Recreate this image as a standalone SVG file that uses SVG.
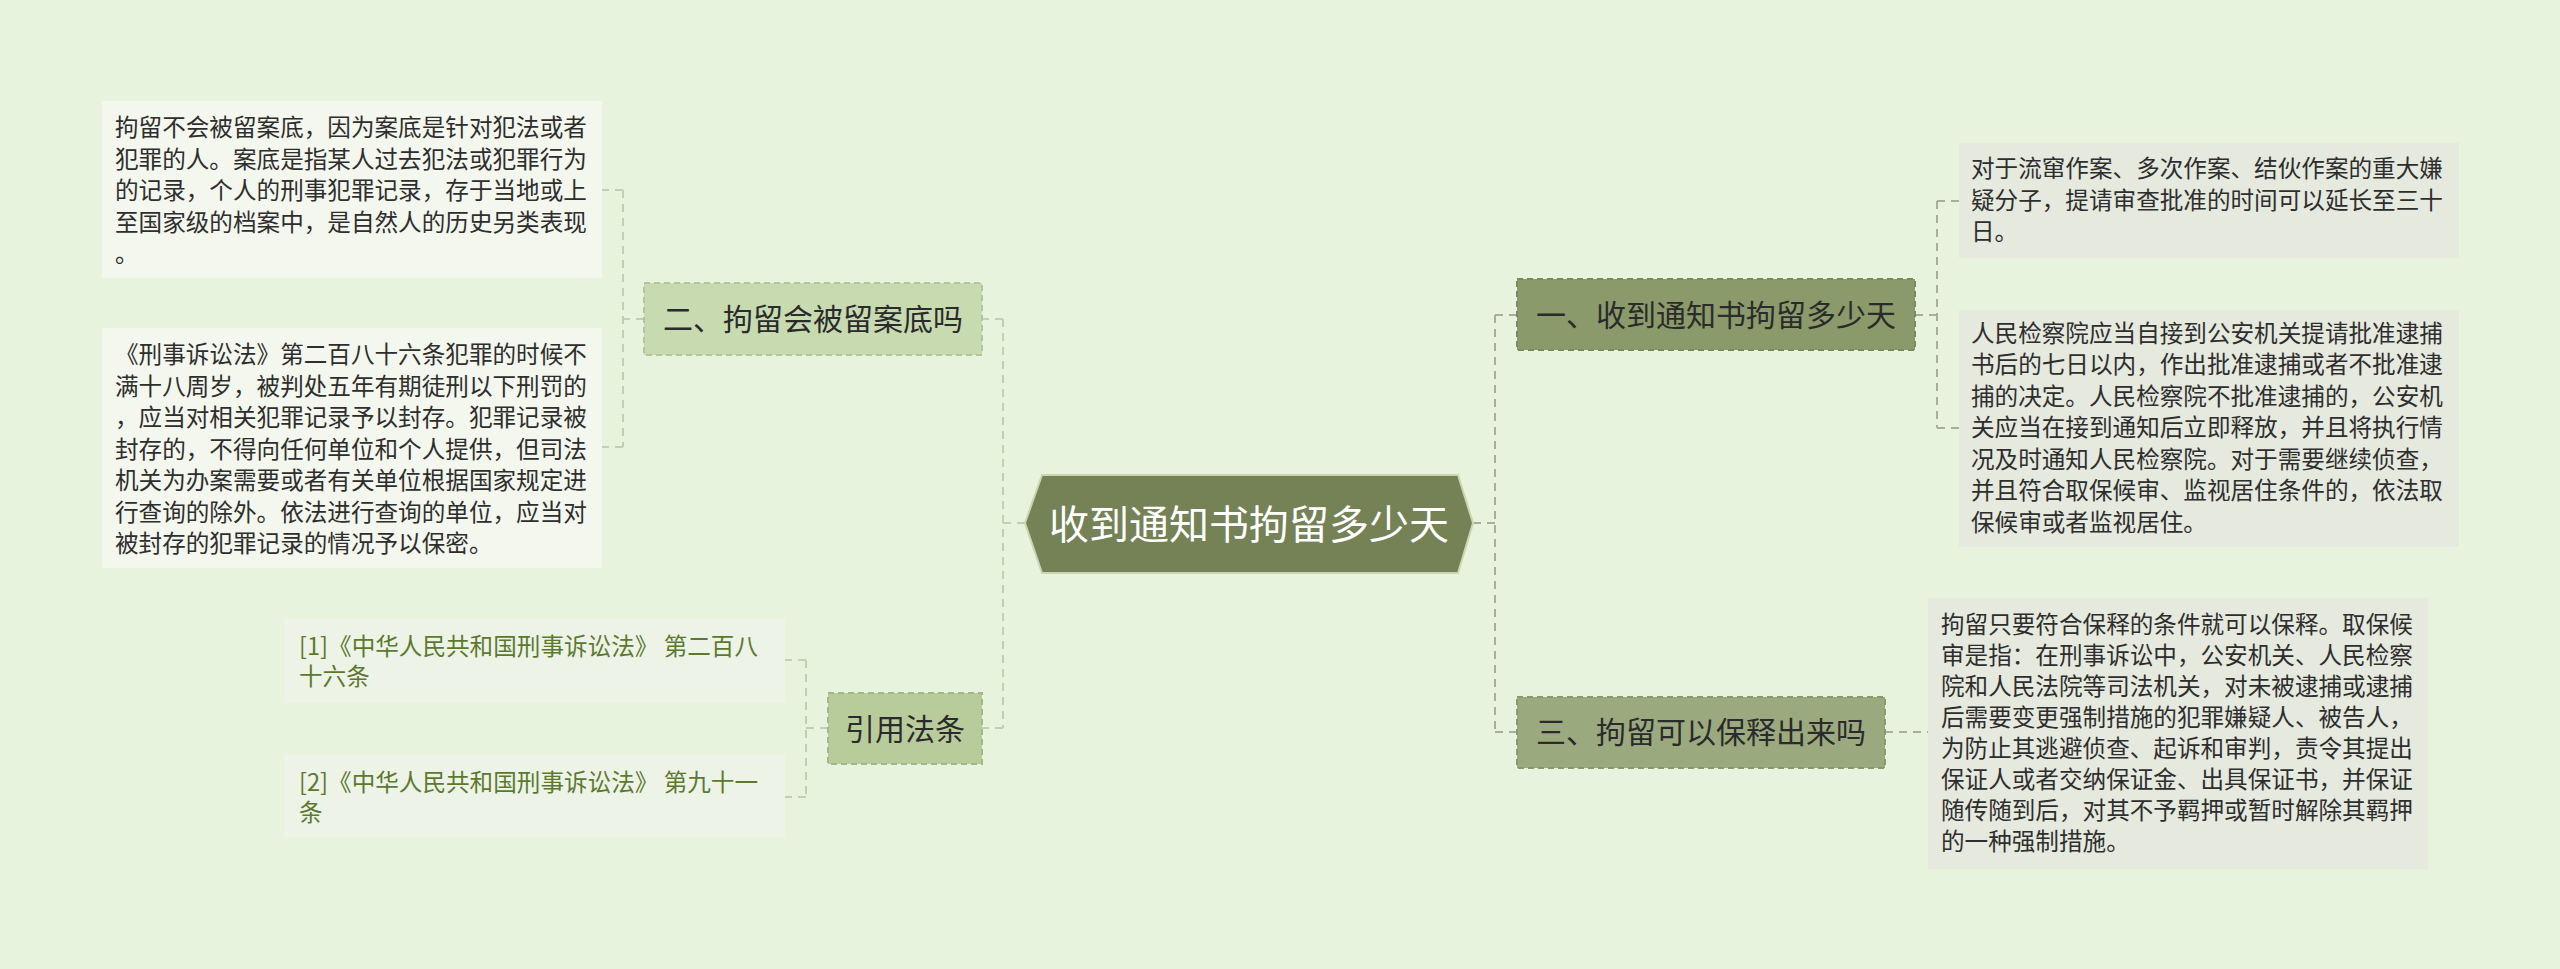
<svg xmlns="http://www.w3.org/2000/svg" width="2560" height="969" viewBox="0 0 2560 969">
<style>
text{font-family:"Noto Sans CJK SC","Noto Sans",sans-serif;}
.leaf{font-size:23.6px;fill:#2e2e2e;}
.ref{font-size:23.6px;fill:#5b7a2e;}
.l1{font-size:30px;fill:#2b2b2b;text-anchor:middle;}
.ctr{font-size:40px;fill:#ffffff;text-anchor:middle;}
.lbox{fill:#f3f7ed;}
.rbox{fill:#e5e9de;}
.cl{fill:none;stroke:#c3cfb2;stroke-width:2;stroke-dasharray:8 6;}
.cr{fill:none;stroke:#a6af98;stroke-width:2;stroke-dasharray:8 6;}
</style>
<rect x="0" y="0" width="2560" height="969" fill="#e7f3dc"/>
<g id="connectors">
<path class="cl" d="M1025 523 H1003 M1003 319 V728 M1003 319 H982 M1003 728 H982"/>
<path class="cr" d="M1473 523 H1495 M1495 315 V732 M1495 315 H1517 M1495 732 H1517"/>
<path class="cl" d="M644 319 H623 M623 190 V447 M623 190 H602 M623 447 H602"/>
<path class="cl" d="M828 728 H806 M806 660 V797 M806 660 H785 M806 797 H785"/>
<path class="cr" d="M1915 315 H1937 M1937 201 V428 M1937 201 H1959 M1937 428 H1959"/>
<path class="cr" d="M1885 732 H1928"/>
</g>
<g id="center">
<polygon points="1025,523 1042,475 1458,475 1473,523 1458,573 1042,573" fill="#748256" stroke="#c9d6b2" stroke-width="2"/>
<text class="ctr" x="1249" y="539">收到通知书拘留多少天</text>
</g>
<g id="n2">
<rect x="644" y="283" width="338" height="72" fill="#c7dab0" stroke="#b3c69b" stroke-width="2" stroke-dasharray="6 4"/>
<text class="l1" x="813" y="330">二、拘留会被留案底吗</text>
</g>
<g id="n2a">
<rect class="lbox" x="102" y="101" width="500" height="177"/>
<text class="leaf"><tspan x="115" y="136">拘留不会被留案底，因为案底是针对犯法或者</tspan><tspan x="115" y="167.5">犯罪的人。案底是指某人过去犯法或犯罪行为</tspan><tspan x="115" y="199">的记录，个人的刑事犯罪记录，存于当地或上</tspan><tspan x="115" y="230.5">至国家级的档案中，是自然人的历史另类表现</tspan><tspan x="115" y="262">。</tspan></text>
</g>
<g id="n2b">
<rect class="lbox" x="102" y="328" width="500" height="240"/>
<text class="leaf"><tspan x="115" y="363">《刑事诉讼法》第二百八十六条犯罪的时候不</tspan><tspan x="115" y="394.5">满十八周岁，被判处五年有期徒刑以下刑罚的</tspan><tspan x="115" y="426">，应当对相关犯罪记录予以封存。犯罪记录被</tspan><tspan x="115" y="457.5">封存的，不得向任何单位和个人提供，但司法</tspan><tspan x="115" y="489">机关为办案需要或者有关单位根据国家规定进</tspan><tspan x="115" y="520.5">行查询的除外。依法进行查询的单位，应当对</tspan><tspan x="115" y="552">被封存的犯罪记录的情况予以保密。</tspan></text>
</g>
<g id="n4">
<rect x="828" y="693" width="154" height="71" fill="#b8cc9b" stroke="#a3b888" stroke-width="2" stroke-dasharray="6 4"/>
<text class="l1" x="905" y="739.5">引用法条</text>
</g>
<g id="n4a">
<rect x="284" y="618" width="501" height="85" fill="#eef3e7"/>
<text class="ref"><tspan x="299" y="655">[1]《中华人民共和国刑事诉讼法》 第二百八</tspan><tspan x="299" y="685">十六条</tspan></text>
</g>
<g id="n4b">
<rect x="284" y="754" width="501" height="84" fill="#eef3e7"/>
<text class="ref"><tspan x="299" y="790.5">[2]《中华人民共和国刑事诉讼法》 第九十一</tspan><tspan x="299" y="820.5">条</tspan></text>
</g>
<g id="n1">
<rect x="1517" y="279" width="398" height="71" fill="#8a9a6a" stroke="#7a8a5c" stroke-width="2" stroke-dasharray="6 4"/>
<text class="l1" x="1716" y="325.5">一、收到通知书拘留多少天</text>
</g>
<g id="n1a">
<rect class="rbox" x="1959" y="143" width="500" height="115"/>
<text class="leaf"><tspan x="1971" y="177">对于流窜作案、多次作案、结伙作案的重大嫌</tspan><tspan x="1971" y="208.5">疑分子，提请审查批准的时间可以延长至三十</tspan><tspan x="1971" y="240">日。</tspan></text>
</g>
<g id="n1b">
<rect class="rbox" x="1959" y="310" width="500" height="237"/>
<text class="leaf"><tspan x="1971" y="341.5">人民检察院应当自接到公安机关提请批准逮捕</tspan><tspan x="1971" y="373">书后的七日以内，作出批准逮捕或者不批准逮</tspan><tspan x="1971" y="404.5">捕的决定。人民检察院不批准逮捕的，公安机</tspan><tspan x="1971" y="436">关应当在接到通知后立即释放，并且将执行情</tspan><tspan x="1971" y="467.5">况及时通知人民检察院。对于需要继续侦查，</tspan><tspan x="1971" y="499">并且符合取保候审、监视居住条件的，依法取</tspan><tspan x="1971" y="530.5">保候审或者监视居住。</tspan></text>
</g>
<g id="n3">
<rect x="1517" y="697" width="368" height="71" fill="#9aaa7e" stroke="#889a6c" stroke-width="2" stroke-dasharray="6 4"/>
<text class="l1" x="1701" y="743">三、拘留可以保释出来吗</text>
</g>
<g id="n3a">
<rect class="rbox" x="1928" y="598" width="500" height="271"/>
<text class="leaf"><tspan x="1941" y="633">拘留只要符合保释的条件就可以保释。取保候</tspan><tspan x="1941" y="664">审是指：在刑事诉讼中，公安机关、人民检察</tspan><tspan x="1941" y="695">院和人民法院等司法机关，对未被逮捕或逮捕</tspan><tspan x="1941" y="726">后需要变更强制措施的犯罪嫌疑人、被告人，</tspan><tspan x="1941" y="757">为防止其逃避侦查、起诉和审判，责令其提出</tspan><tspan x="1941" y="788">保证人或者交纳保证金、出具保证书，并保证</tspan><tspan x="1941" y="819">随传随到后，对其不予羁押或暂时解除其羁押</tspan><tspan x="1941" y="850">的一种强制措施。</tspan></text>
</g>
</svg>
